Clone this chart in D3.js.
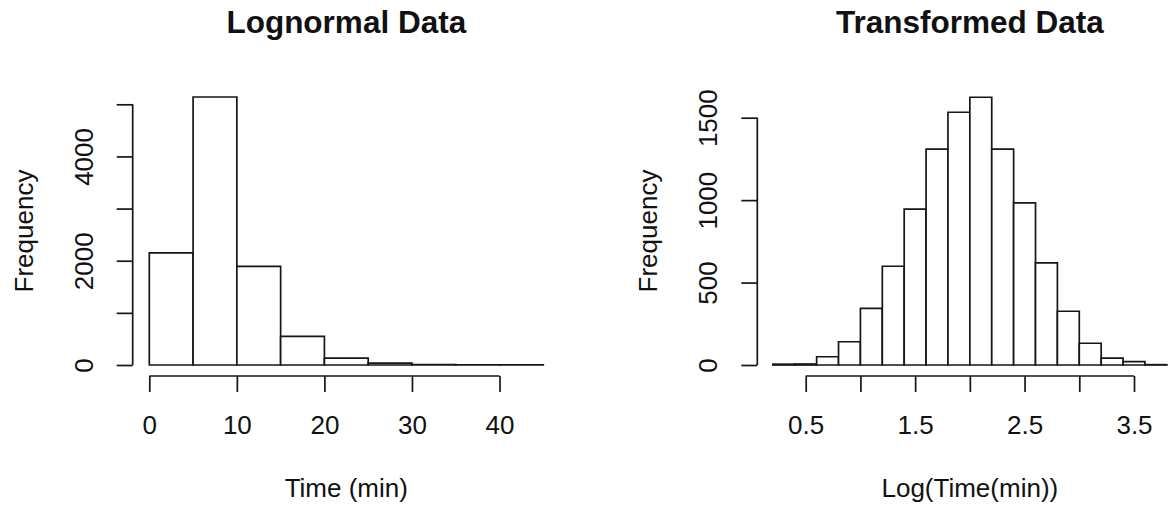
<!DOCTYPE html>
<html>
<head>
<meta charset="utf-8">
<script src="https://cdn.jsdelivr.net/npm/d3@7"></script>
<style>
  html, body { margin: 0; padding: 0; background: #fff; }
  svg { display: block; }
  text { font-family: "Liberation Sans", Arial, sans-serif; fill: #111; }
</style>
</head>
<body>
<svg id="chart" width="1168" height="508"></svg>
<script>
// Left panel: raw times, 5-minute bins
const rawBinStarts = [0, 5, 10, 15, 20, 25, 30, 35, 40];
const rawBinWidth = 5;
const rawCounts = [2150, 5140, 1890, 550, 130, 35, 8, 3, 1];
const rawXTicks = [0, 10, 20, 30, 40];
const rawYTicks = [0, 1000, 2000, 3000, 4000, 5000];
const rawYLabels = [0, 2000, 4000];

// Right panel: log-transformed times, 0.2 bins
const logBinStarts = [0.2, 0.4, 0.6, 0.8, 1.0, 1.2, 1.4, 1.6, 1.8, 2.0, 2.2, 2.4, 2.6, 2.8, 3.0, 3.2, 3.4, 3.6];
const logBinWidth = 0.2;
const logCounts = [5, 6, 50, 141, 344, 599, 945, 1309, 1533, 1624, 1309, 983, 619, 326, 132, 42, 20, 2];
const logXTicks = [0.5, 1.0, 1.5, 2.0, 2.5, 3.0, 3.5];
const logXLabels = [0.5, 1.5, 2.5, 3.5];
const logYTicks = [0, 500, 1000, 1500];
const logYLabels = [0, 500, 1000, 1500];

const svg = d3.select("#chart");
const INK = "#161616";
const LW = 1.7;
const TICK = 16;

function panel(cfg) {
  const g = svg.append("g");
  const x = d3.scaleLinear().domain(cfg.xDom).range(cfg.xRange);
  const y = d3.scaleLinear().domain(cfg.yDom).range(cfg.yRange);

  // histogram bars drawn as closed paths so empty bins still show a baseline
  g.selectAll("path.bar")
    .data(cfg.starts.map((s, i) => ({ x0: s, x1: s + cfg.width, n: cfg.counts[i] })))
    .join("path")
    .attr("class", "bar")
    .attr("d", d => `M${x(d.x0)},${y(0)}V${y(d.n)}H${x(d.x1)}V${y(0)}Z`)
    .attr("fill", "#fff")
    .attr("stroke", INK)
    .attr("stroke-width", LW)
    .attr("stroke-linejoin", "miter");

  // x axis, offset below the bars
  const xa = g.append("g")
    .attr("transform", `translate(0,${cfg.xAxisY})`)
    .call(d3.axisBottom(x).tickValues(cfg.xTicks).tickSize(TICK).tickSizeOuter(0)
      .tickFormat(v => cfg.xLabels.includes(v) ? cfg.xFmt(v) : ""));
  xa.select(".domain").remove();
  xa.append("line")
    .attr("x1", x(cfg.xTicks[0])).attr("x2", x(cfg.xTicks[cfg.xTicks.length - 1]))
    .attr("stroke", INK).attr("stroke-width", LW);
  xa.selectAll(".tick line").attr("stroke", INK).attr("stroke-width", LW);
  xa.selectAll(".tick text")
    .attr("y", 58).attr("dy", 0)
    .attr("font-size", 26).attr("fill", "#111");

  // y axis, offset left of the bars
  const ya = g.append("g")
    .attr("transform", `translate(${cfg.yAxisX},0)`)
    .call(d3.axisLeft(y).tickValues(cfg.yTicks).tickSize(TICK).tickSizeOuter(0)
      .tickFormat(v => cfg.yLabels.includes(v) ? String(v) : ""));
  ya.select(".domain").remove();
  ya.append("line")
    .attr("y1", y(cfg.yTicks[0])).attr("y2", y(cfg.yTicks[cfg.yTicks.length - 1]))
    .attr("stroke", INK).attr("stroke-width", LW);
  ya.selectAll(".tick line").attr("stroke", INK).attr("stroke-width", LW);
  ya.selectAll(".tick text")
    .attr("x", 0).attr("dy", 0)
    .attr("transform", "translate(-40,0) rotate(-90)")
    .attr("text-anchor", "middle")
    .attr("font-size", 26).attr("fill", "#111");

  const cx = (cfg.xRange[0] + cfg.xRange[1]) / 2;

  g.append("text")
    .attr("x", cx).attr("y", 33)
    .attr("text-anchor", "middle")
    .attr("font-size", 31.5).attr("font-weight", "bold")
    .text(cfg.title);

  g.append("text")
    .attr("x", cx).attr("y", 497)
    .attr("text-anchor", "middle")
    .attr("font-size", 26)
    .text(cfg.xTitle);

  g.append("text")
    .attr("transform", `translate(${cfg.yAxisX - 100},231) rotate(-90)`)
    .attr("text-anchor", "middle")
    .attr("font-size", 26)
    .text("Frequency");
}

panel({
  starts: rawBinStarts, width: rawBinWidth, counts: rawCounts,
  xDom: [0, 45], xRange: [149.3, 543.3],
  yDom: [0, 5000], yRange: [365, 104.3],
  xTicks: rawXTicks, xLabels: rawXTicks, xFmt: v => String(v),
  yTicks: rawYTicks, yLabels: rawYLabels,
  xAxisY: 376, yAxisX: 132.7,
  title: "Lognormal Data", xTitle: "Time (min)"
});

panel({
  starts: logBinStarts, width: logBinWidth, counts: logCounts,
  xDom: [0.5, 3.5], xRange: [805.7, 1134],
  yDom: [0, 1500], yRange: [365, 117.7],
  xTicks: logXTicks, xLabels: logXLabels, xFmt: v => v.toFixed(1),
  yTicks: logYTicks, yLabels: logYLabels,
  xAxisY: 376, yAxisX: 757.3,
  title: "Transformed Data", xTitle: "Log(Time(min))"
});
</script>
</body>
</html>
